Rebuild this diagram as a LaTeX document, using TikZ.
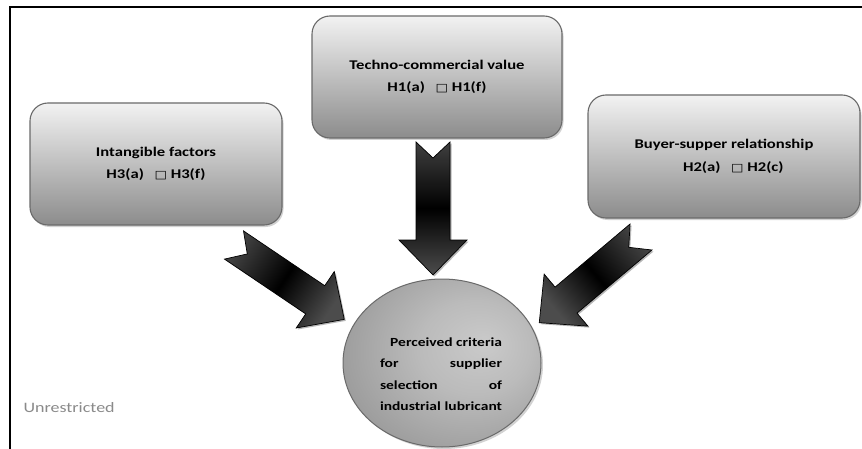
\documentclass[tikz,border=0pt]{standalone}
\usepackage{fontspec}
\setmainfont{Carlito}[FakeStretch=1.25]
\newfontfamily\dejavu{DejaVu Sans}[FakeStretch=1.2]
\usetikzlibrary{shapes.geometric,shadows,calc}
\definecolor{boxborder}{HTML}{6A6A6A}
\definecolor{boxtop}{HTML}{F2F2F2}
\definecolor{boxbot}{HTML}{8C8C8C}
\definecolor{unrgray}{HTML}{8A8A8A}
\definecolor{ellA}{HTML}{CACACA}
\definecolor{ellB}{HTML}{BBBBBB}
\definecolor{ellC}{HTML}{8A8A8A}
\definecolor{ellD}{HTML}{6C6C6C}
\pgfdeclareradialshading{critshade}{\pgfpoint{11bp}{6bp}}{%
  color(0bp)=(ellA); color(14bp)=(ellB); color(42bp)=(ellC); color(62bp)=(ellD)}
\newcommand\sqglyph{{\dejavu\mdseries\fontsize{11}{11}\selectfont □}}
% block arrow: #1 tail coordinate, #2 direction angle, #3 shading angle
\newcommand\blockarr[3]{%
  \path[blockarrow, shading angle=#3]
    ([shift={(#1)},rotate=#2]0,17) -- ([shift={(#1)},rotate=#2]98,17)
    -- ([shift={(#1)},rotate=#2]98,34) -- ([shift={(#1)},rotate=#2]133,0)
    -- ([shift={(#1)},rotate=#2]98,-34) -- ([shift={(#1)},rotate=#2]98,-17)
    -- ([shift={(#1)},rotate=#2]0,-17) -- ([shift={(#1)},rotate=#2]16,0) -- cycle;}
\tikzset{
  hbox/.style={draw=boxborder, line width=1.1pt, rounded corners=18pt,
    top color=boxtop, bottom color=boxbot, align=center,
    font=\bfseries\fontsize{13.3}{22.5}\selectfont,
    drop shadow={shadow xshift=1.5pt, shadow yshift=-2pt, opacity=0.35}},
  critell/.style={ellipse, draw=boxborder, line width=1pt, shading=critshade,
    drop shadow={shadow xshift=2pt, shadow yshift=-2pt, opacity=0.35}},
  blockarrow/.style={draw=black, line width=0.7pt, top color=black!75,
    bottom color=black!70, middle color=black,
    drop shadow={shadow xshift=1.5pt, shadow yshift=-1.5pt, fill=gray!70, opacity=0.8}},
  crittext/.style={align=left, font=\bfseries\fontsize{12.4}{21.5}\selectfont},
}
\begin{document}
\begin{tikzpicture}[x=1pt,y=1pt]
\useasboundingbox (0,0) rectangle (862,448);
\fill[white] (0,0) rectangle (862,448);
\draw[line width=2.2pt] (10,-2) |- (864,441);

\node[hbox, minimum width=252pt, minimum height=122pt] (intang) at (156,284)
  {Intangible factors\\H3(a)\hspace{0.8em}\sqglyph\ H3(f)};
\node[hbox, minimum width=250pt, minimum height=122pt] (techno) at (437,371)
  {Techno-commercial value\\H1(a)\hspace{0.8em}\sqglyph\ H1(f)};
\node[hbox, minimum width=272pt, minimum height=123pt] (buyer) at (724,291.5)
  {Buyer-supper relationship\\\hspace{1.4em}H2(a)\hspace{0.8em}\sqglyph\ H2(c)};

\node[critell, minimum width=198pt, minimum height=168pt] (crit) at (442,85) {};
\node[crittext] (critlabel) at (441,74)
  {\makebox[122pt][r]{Perceived criteria}\\
   \makebox[122pt][s]{for supplier}\\
   \makebox[122pt][s]{selection of}\\
   \makebox[122pt][s]{industrial lubricant}};

\coordinate (tailT) at (433,306);
\coordinate (tailL) at (234,203);
\coordinate (tailR) at (641,211);
\blockarr{tailT}{-90}{0}
\blockarr{tailL}{-34}{56}
\blockarr{tailR}{-139.9}{-49.9}

\node[anchor=west, text=unrgray, font=\fontsize{14.4}{16}\selectfont] (unr) at (20,40) {Unrestricted};
\end{tikzpicture}
\end{document}
